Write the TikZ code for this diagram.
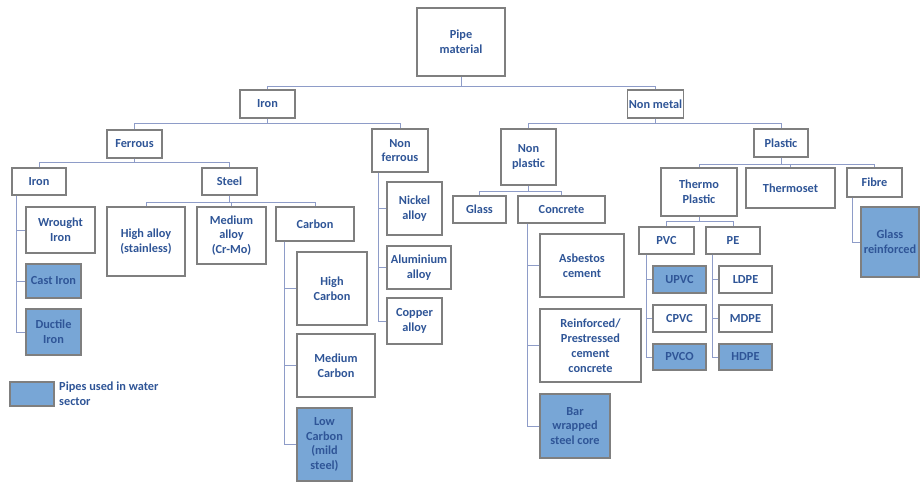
\documentclass[tikz,border=0pt]{standalone}
\usepackage{fontspec}
\setmainfont{Carlito}
\definecolor{txtblue}{HTML}{2F5597}
\definecolor{boxgray}{HTML}{7F7F7F}
\definecolor{linkblue}{HTML}{8E9CC8}
\definecolor{waterfill}{HTML}{78A6D6}
\tikzset{
  box/.style={draw=boxgray, line width=1.1pt, fill=white, text=txtblue,
    font=\fontsize{10.5}{12.7}\selectfont\bfseries, align=center, inner sep=1pt},
  water/.style={box, fill=waterfill},
  sz/.style 2 args={minimum width=#1*0.03cm, minimum height=#2*0.03cm},
  link/.style={draw=linkblue, line width=0.8pt},
}
\begin{document}
\begin{tikzpicture}[x=0.03cm, y=-0.03cm]
  \useasboundingbox (0,0) rectangle (923,484);

  % top levels
  \node[box, sz={88}{68}] (pipe) at (461,42) {Pipe\\material};
  \node[box, sz={55}{28}] (metal) at (267.5,104) {Iron};
  \node[box, sz={55}{28}] (nonmetal) at (655.5,104) {Non metal};

  % metals
  \node[box, sz={55}{28}] (ferrous) at (134.5,144) {Ferrous};
  \node[box, sz={56}{43}] (nonferrous) at (400,150.5) {Non\\ferrous};
  \node[box, sz={54}{27}] (iron) at (39,181.5) {Iron};
  \node[box, sz={55}{27}] (steel) at (229.5,181.5) {Steel};

  \node[box, sz={69}{46}] (wrought) at (60.5,230) {Wrought\\Iron};
  \node[water, sz={55}{34}] (cast) at (53.5,281) {Cast Iron};
  \node[water, sz={55}{46}] (ductile) at (53.5,332) {Ductile\\Iron};

  \node[box, sz={78}{69}] (highalloy) at (146,241.5) {High alloy\\(stainless)};
  \node[box, sz={69}{57}] (medalloy) at (231.5,235.5) {Medium\\alloy\\(Cr-Mo)};
  \node[box, sz={78}{34}] (carbon) at (315,224) {Carbon};
  \node[box, sz={70}{73}] (highc) at (332,288.5) {High\\Carbon};
  \node[box, sz={78}{63}] (medc) at (336,365.5) {Medium\\Carbon};
  \node[water, sz={55}{73}] (lowc) at (324.5,444.5) {Low\\Carbon\\(mild\\steel)};

  \node[box, sz={55}{53}] (nickel) at (414.5,208.5) {Nickel\\alloy};
  \node[box, sz={64}{43}] (alu) at (419,267.5) {Aluminium\\alloy};
  \node[box, sz={55}{46}] (copper) at (414.5,321) {Copper\\alloy};

  % non metals
  \node[box, sz={55}{56}] (nonplastic) at (528.5,157) {Non\\plastic};
  \node[box, sz={54}{28}] (plastic) at (781,143) {Plastic};
  \node[box, sz={53}{27}] (glass) at (479.5,209.5) {Glass};
  \node[box, sz={87}{27}] (concrete) at (561.5,209.5) {Concrete};
  \node[box, sz={84}{63}] (asbestos) at (582,265.5) {Asbestos\\cement};
  \node[box, sz={101}{73}] (rcc) at (590.5,345.5) {Reinforced/\\Prestressed\\cement\\concrete};
  \node[water, sz={70}{64}] (bwsc) at (575,426) {Bar\\wrapped\\steel core};

  \node[box, sz={76}{48}] (thermo) at (699,192) {Thermo\\Plastic};
  \node[box, sz={89}{40}] (thermoset) at (790.5,188) {Thermoset};
  \node[box, sz={55}{29}] (fibre) at (874.5,182.5) {Fibre};
  \node[water, sz={58}{70}] (grp) at (890,242) {Glass\\reinforced};

  \node[box, sz={55}{27}] (pvc) at (666.5,240.5) {PVC};
  \node[box, sz={54}{27}] (pe) at (733,240.5) {PE};
  \node[water, sz={53}{27}] (upvc) at (679.5,279.5) {UPVC};
  \node[box, sz={53}{27}] (cpvc) at (679.5,318.5) {CPVC};
  \node[water, sz={53}{26}] (pvco) at (679.5,357) {PVCO};
  \node[box, sz={53}{27}] (ldpe) at (745.5,279.5) {LDPE};
  \node[box, sz={53}{27}] (mdpe) at (745.5,318.5) {MDPE};
  \node[water, sz={53}{26}] (hdpe) at (745.5,357) {HDPE};

  % legend
  \node[water, sz={44}{24}] (legend) at (32,394) {};
  \node[text=txtblue, font=\fontsize{10.5}{12.7}\selectfont\bfseries, align=left,
    anchor=west, inner sep=0pt] (legendtxt) at (59,394) {Pipes used in water\\sector};

  % tree links
  \draw[link] (pipe.south) -- ++(0,10) -| (metal.north);
  \draw[link] (pipe.south) -- ++(0,10) -| (nonmetal.north);
  \draw[link] (metal.south) -- ++(0,5) -| (ferrous.north);
  \draw[link] (metal.south) -- ++(0,5) -| (nonferrous.north);
  \draw[link] (ferrous.south) -- ++(0,4) -| (iron.north);
  \draw[link] (ferrous.south) -- ++(0,4) -| (steel.north);
  \draw[link] (steel.south) -- ++(0,7) -| (highalloy.north);
  \draw[link] (steel.south) -- ++(0,7) -| (medalloy.north);
  \draw[link] (steel.south) -- ++(0,7) -| (carbon.north);
  \draw[link] (nonmetal.south) -- ++(0,5) -| (nonplastic.north);
  \draw[link] (nonmetal.south) -- ++(0,5) -| (plastic.north);
  \draw[link] (nonplastic.south) -- ++(0,6) -| (glass.north);
  \draw[link] (nonplastic.south) -- ++(0,6) -| (concrete.north);
  \draw[link] (plastic.south) -- ++(0,7) -| (thermo.north);
  \draw[link] (plastic.south) -- ++(0,7) -| (thermoset.north);
  \draw[link] (plastic.south) -- ++(0,7) -| (fibre.north);
  \draw[link] (thermo.south) -- ++(0,5) -| (pvc.north);
  \draw[link] (thermo.south) -- ++(0,5) -| (pe.north);

  % side spines
  \foreach \kid in {wrought,cast,ductile}
    \draw[link] ([xshift=.15cm]iron.south west) |- (\kid.west);
  \foreach \kid in {highc,medc,lowc}
    \draw[link] ([xshift=.27cm]carbon.south west) |- (\kid.west);
  \foreach \kid in {nickel,alu,copper}
    \draw[link] ([xshift=.21cm]nonferrous.south west) |- (\kid.west);
  \foreach \kid in {asbestos,rcc,bwsc}
    \draw[link] ([xshift=.3cm]concrete.south west) |- (\kid.west);
  \foreach \kid in {upvc,cpvc,pvco}
    \draw[link] ([xshift=.24cm]pvc.south west) |- (\kid.west);
  \foreach \kid in {ldpe,mdpe,hdpe}
    \draw[link] ([xshift=.21cm]pe.south west) |- (\kid.west);
  \draw[link] ([xshift=.18cm]fibre.south west) |- (grp.west);
\end{tikzpicture}
\end{document}
